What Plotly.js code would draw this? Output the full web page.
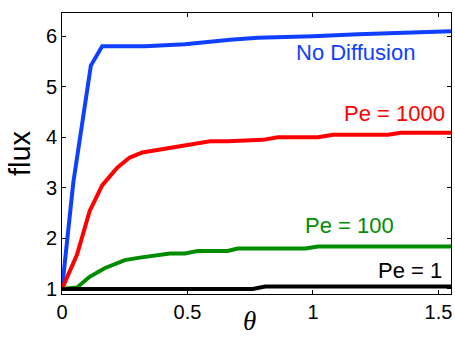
<!DOCTYPE html>
<html>
<head>
<meta charset="utf-8">
<script src="https://cdn.plot.ly/plotly-3.0.1.min.js"></script>
<style>html,body{margin:0;padding:0;background:#fff;}#chart{width:455px;height:337px;}</style>
</head>
<body>
<div id="chart"></div>
<script>
// theta values and flux for each case
const noDiffX = [0, 0.045, 0.115, 0.16, 0.33, 0.49, 0.67, 0.78, 1.0, 1.18, 1.55];
const noDiffY = [1, 3.1, 5.42, 5.8, 5.8, 5.84, 5.93, 5.97, 6.0, 6.04, 6.1];

const pe1000X = [0, 0.06, 0.11, 0.16, 0.22, 0.27, 0.32, 0.47, 0.59, 0.66, 0.8, 0.86, 1.02, 1.08, 1.3, 1.35, 1.55];
const pe1000Y = [1, 1.68, 2.54, 3.05, 3.4, 3.6, 3.7, 3.82, 3.92, 3.92, 3.95, 4.0, 4.0, 4.05, 4.05, 4.09, 4.09];

const pe100X = [0, 0.06, 0.11, 0.17, 0.25, 0.31, 0.43, 0.49, 0.54, 0.66, 0.7, 0.97, 1.02, 1.55];
const pe100Y = [1, 1.03, 1.24, 1.41, 1.57, 1.62, 1.7, 1.7, 1.75, 1.75, 1.8, 1.8, 1.84, 1.84];

const pe1X = [0, 0.76, 0.81, 1.55];
const pe1Y = [1, 1, 1.05, 1.05];

const xTicks = [0, 0.5, 1, 1.5];
const xTickText = ['0', '0.5', '1', '1.5'];
const yTicks = [1, 2, 3, 4, 5, 6];

const labels = ['No Diffusion', 'Pe = 1000', 'Pe = 100', 'Pe = 1'];
const labelX = [1.416, 1.535, 1.329, 1.523];
const labelY = [5.67, 4.47, 2.25, 1.36];

const colors = ['#1040ff', '#ff0000', '#008c00', '#000000'];

const series = [[noDiffX, noDiffY], [pe1000X, pe1000Y], [pe100X, pe100Y], [pe1X, pe1Y]];
const traces = series.map((s, i) => ({
  x: s[0], y: s[1], mode: 'lines', type: 'scatter',
  line: {color: colors[i], width: 4}, hoverinfo: 'skip', showlegend: false
}));

const annotations = labels.map((t, i) => ({
  x: labelX[i], y: labelY[i], xref: 'x', yref: 'y', text: t, showarrow: false,
  xanchor: 'right', yanchor: 'middle',
  font: {family: 'Liberation Sans, Arial, sans-serif', size: 22, color: colors[i]}
}));
// x-axis title (θ), placed slightly left of centre as in the reference
annotations.push({
  x: 0.481, y: -0.152, xref: 'paper', yref: 'paper', text: '<i>θ</i>', showarrow: false,
  xanchor: 'center', yanchor: 'bottom', borderpad: 0,
  font: {family: 'Liberation Serif, Times New Roman, serif', size: 27, color: '#000'}
});

const layout = {
  width: 455, height: 337,
  margin: {l: 62, r: 4, t: 13, b: 43},
  paper_bgcolor: '#fff', plot_bgcolor: '#fff',
  font: {family: 'Liberation Sans, Arial, sans-serif', size: 20, color: '#000'},
  xaxis: {
    range: [0, 1.55], tickvals: xTicks, ticktext: xTickText,
    ticks: 'inside', ticklen: 4, tickcolor: '#000', showline: true, linecolor: '#000', linewidth: 1,
    mirror: 'ticks', showgrid: false, zeroline: false
  },
  yaxis: {
    range: [0.9, 6.46], tickvals: yTicks,
    ticks: 'inside', ticklen: 4, tickcolor: '#000', showline: true, linecolor: '#000', linewidth: 1,
    mirror: 'ticks', showgrid: false, zeroline: false,
    title: {text: 'flux', font: {size: 29}, standoff: 6}
  },
  annotations: annotations
};

Plotly.newPlot('chart', traces, layout, {displayModeBar: false, staticPlot: true});
</script>
</body>
</html>
